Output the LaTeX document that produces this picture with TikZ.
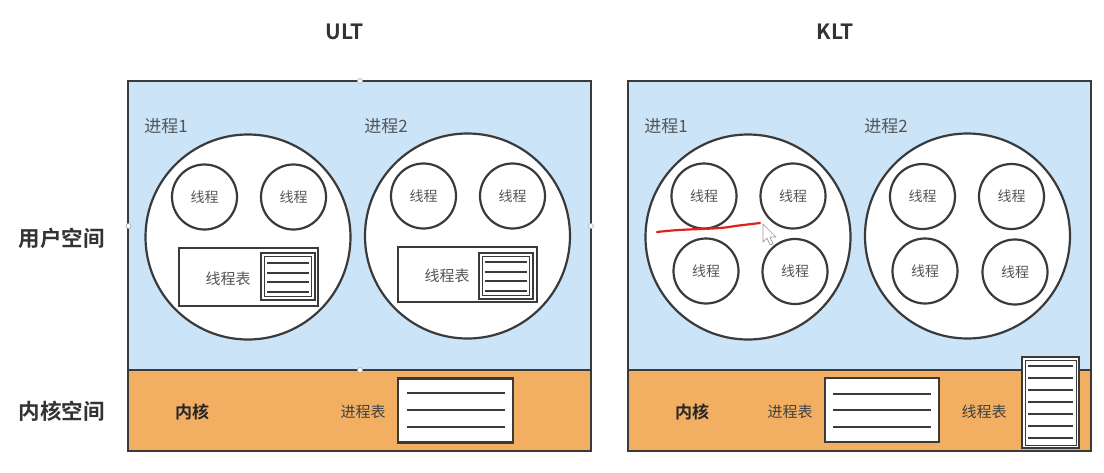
\documentclass[tikz,border=0pt]{standalone}
\usepackage{fontspec}
\setmainfont{Noto Sans CJK SC}[BoldFont={Noto Sans CJK SC Bold}]
\definecolor{userblue}{HTML}{CCE4F8}
\definecolor{kernorange}{HTML}{F2AF62}
\definecolor{linec}{HTML}{3A3A3A}
\definecolor{txtgray}{HTML}{555555}
\definecolor{redpen}{HTML}{E0201A}
\begin{document}
\begin{tikzpicture}[x=1pt,y=-1pt,
  panel/.style={draw=linec,line width=2.2pt},
  proc/.style={circle,draw=linec,line width=2.2pt,fill=white,minimum size=205pt,inner sep=0pt},
  thread/.style={circle,draw=linec,line width=2.2pt,fill=white,minimum size=65pt,inner sep=0pt,font=\fontsize{14}{14}\selectfont,text=txtgray},
  tablebox/.style={draw=linec,line width=2.2pt,fill=white,inner sep=0pt},
  tline/.style={draw=linec,line width=2pt},
  plabel/.style={font=\fontsize{17}{17}\selectfont,text=txtgray,inner sep=0pt},
  slabel/.style={font=\fontsize{15}{15}\selectfont,text=txtgray,inner sep=0pt},
  klabel/.style={font=\bfseries\fontsize{17}{17}\selectfont,text=black!85,inner sep=0pt},
  side/.style={font=\bfseries\fontsize{21.5}{21.5}\selectfont,text=black!80,inner sep=0pt},
  title/.style={font=\bfseries\fontsize{21}{21}\selectfont,text=black!80,inner sep=0pt},
  handle/.style={circle,draw=gray!70,fill=white,line width=0.6pt,minimum size=5pt,inner sep=0pt}
]
\useasboundingbox (0,0) rectangle (1104,472);
\fill[white] (0,0) rectangle (1104,472);

% titles and side labels
\node[title] (tULT) at (345,32) {ULT};
\node[title] (tKLT) at (835,32) {KLT};
\node[side] (sUser) at (62,238) {用户空间};
\node[side] (sKern) at (62,411) {内核空间};

% ================= LEFT PANEL (ULT) =================
\fill[userblue] (128,81) rectangle (591,370);
\fill[kernorange] (128,370) rectangle (591,451);
\draw[panel] (128,81) rectangle (591,451);
\draw[panel] (128,370) -- (591,370);

\node[plabel] (Lp1lab) at (166,126) {进程1};
\node[plabel] (Lp2lab) at (386,126) {进程2};

\node[proc] (Lp1) at (248,237) {};
\node[proc] (Lp2) at (467.5,236) {};

\node[thread] (Lt11) at (204.5,197) {线程};
\node[thread] (Lt12) at (293.5,197) {线程};
\node[thread] (Lt21) at (423.5,196) {线程};
\node[thread] (Lt22) at (512.5,196) {线程};

% thread tables in processes
\draw[tablebox] (179,248) rectangle (318,306);
\node[slabel] (Lttl1) at (228,279) {线程表};
\draw[linec,line width=1.8pt] (261,253) rectangle (315,300);
\draw[linec,line width=1.2pt] (264.5,256.5) rectangle (311.5,296.5);
\foreach \yy in {263,272.5,282,291.5} \draw[tline] (267,\yy) -- (309,\yy);

\draw[tablebox] (398,247) rectangle (537,302);
\node[slabel] (Lttl2) at (447,276) {线程表};
\draw[linec,line width=1.8pt] (479,253) rectangle (533,299);
\draw[linec,line width=1.2pt] (482.5,256.5) rectangle (529.5,295.5);
\foreach \yy in {262,271.5,281,290.5} \draw[tline] (485,\yy) -- (527,\yy);

% kernel
\node[klabel] (Lkern) at (192,412) {内核};
\node[slabel,text=black!75] (Lptl) at (363,412) {进程表};
\node[tablebox,minimum width=115pt,minimum height=64pt] (Lptab) at (455.5,410.5) {};
\foreach \yy in {393,410,427} \draw[tline] (407,\yy) -- (505,\yy);

% selection handles
\node[handle] (h1) at (360,81) {};
\node[handle] (h2) at (128.5,226) {};
\node[handle] (h3) at (591,226) {};
\node[handle] (h4) at (360,370) {};

% ================= RIGHT PANEL (KLT) =================
\fill[userblue] (628,81) rectangle (1091,370);
\fill[kernorange] (628,370) rectangle (1091,451);
\draw[panel] (628,81) rectangle (1091,451);
\draw[panel] (628,370) -- (1091,370);

\node[plabel] (Rp1lab) at (666,126) {进程1};
\node[plabel] (Rp2lab) at (886,126) {进程2};

\node[proc] (Rp1) at (748,237) {};
\node[proc] (Rp2) at (967.5,236) {};

\node[thread] (Rt11) at (704,196) {线程};
\node[thread] (Rt12) at (793,196) {线程};
\node[thread] (Rt13) at (706,271) {线程};
\node[thread] (Rt14) at (795,271.5) {线程};
\node[thread] (Rt21) at (922.5,196.5) {线程};
\node[thread] (Rt22) at (1011.5,196.5) {线程};
\node[thread] (Rt23) at (925,271) {线程};
\node[thread] (Rt24) at (1015,272) {线程};

% kernel
\node[klabel] (Rkern) at (692,412) {内核};
\node[slabel,text=black!75] (Rptl) at (790,412) {进程表};
\node[tablebox,minimum width=114pt,minimum height=64pt] (Rptab) at (882,410) {};
\foreach \yy in {394,410,427} \draw[tline] (833,\yy) -- (931,\yy);

\node[slabel,text=black!75] (Rttl) at (984,412) {线程表};
\node[tablebox,minimum width=57pt,minimum height=91pt] (Rttab) at (1050.5,402.5) {};
\draw[linec,line width=1.0pt] (1025,360) rectangle (1076,445);
\foreach \yy in {366,378,390,402,414,426,438} \draw[tline] (1028,\yy) -- (1073,\yy);

% red pen stroke and cursor
\coordinate (redA) at (657,232);
\coordinate (redB) at (760,223);
\draw[redpen,line width=2.2pt,line cap=round]
  (redA) .. controls (690,228) and (715,230) .. (735,226) -- (redB);
\draw[gray!80,fill=white,line width=0.7pt,line join=round]
  (763,224) -- (763,242) -- (767,238) -- (770,245) -- (773,244) -- (770,237) -- (776,237) -- cycle;
\end{tikzpicture}
\end{document}
